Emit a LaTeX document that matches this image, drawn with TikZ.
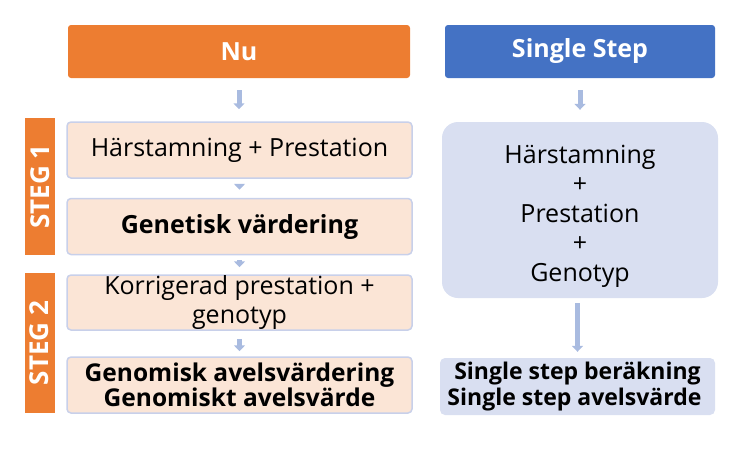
\documentclass[tikz,border=0pt]{standalone}
\usepackage{fontspec}
\setmainfont{Open Sans}
\usetikzlibrary{arrows.meta}
\definecolor{nuOrange}{HTML}{ED7D31}
\definecolor{ssBlue}{HTML}{4472C4}
\definecolor{peach}{HTML}{FBE5D6}
\definecolor{lavender}{HTML}{D9DFF1}
\definecolor{edgeBlue}{HTML}{C8D0EA}
\definecolor{arrowBlue}{HTML}{A9BBE0}
\tikzstyle{header} = [rectangle, rounded corners=3pt,
minimum height=53pt,
text centered,
text=white,
font=\fontsize{25}{27}\selectfont\bfseries]
\tikzstyle{stepBar} = [rectangle, rotate=90,
minimum height=30pt,
text centered,
fill=nuOrange,
text=white,
font=\fontsize{26}{28}\selectfont\bfseries]
\tikzstyle{leftBox} = [rectangle, rounded corners=4pt,
minimum width=345pt,
minimum height=56pt,
inner sep=0pt,
align=center,
draw=edgeBlue, line width=1.5pt,
fill=peach,
font=\fontsize{25}{28.7}\selectfont]
\tikzstyle{rightBox} = [rectangle,
minimum width=276pt,
inner sep=0pt,
align=center,
fill=lavender,
font=\fontsize{25}{29.5}\selectfont]
\tikzstyle{arrow} = [line width=5pt, draw=arrowBlue, -{Triangle[width=11pt,length=6pt]}]

\begin{document}
\begin{tikzpicture}[x=1pt, y=-1pt, node distance=76pt]
\useasboundingbox (0,0) rectangle (750,448);
\node (nu) [header, fill=nuOrange, minimum width=342pt] at (239,51.5) {Nu};
\node (ss) [header, fill=ssBlue, minimum width=270pt] at (580,51.5) {Single Step};

\node (harPre) [leftBox] at (239.5,150) {Härstamning + Prestation};
\node (genVar) [leftBox, below of=harPre, yshift=-0.5pt, font=\fontsize{25}{25}\selectfont\bfseries] {Genetisk värdering};
\node (korPre) [leftBox, below of=genVar, minimum height=55pt] {Korrigerad prestation +\\genotyp};
\node (genAv) [leftBox, below of=korPre, yshift=-6.5pt, font=\fontsize{24.5}{25}\selectfont\bfseries] {Genomisk avelsvärdering\\Genomiskt avelsvärde};

\node (steg1) [stepBar, minimum width=137pt] at (40,186.5) {STEG 1};
\node (steg2) [stepBar, minimum width=140pt] at (39.5,343) {STEG 2};

\node (ssAll) [rightBox, rounded corners=16pt, minimum height=176pt] at (580,210) {\rule{0pt}{30pt}Härstamning\\+\\Prestation\\+\\Genotyp};
\node (ssRes) [rightBox, rounded corners=5pt, minimum width=275pt, minimum height=57pt, font=\fontsize{23}{26}\selectfont\bfseries] at (577.5,386.5) {Single step beräkning\\Single step avelsvärde\hspace*{6pt}};

\draw [arrow, shorten <=12pt, shorten >=12pt] (nu) -- (nu |- harPre.north);
\draw [arrow, shorten <=5pt, shorten >=8pt] (harPre) -- (genVar);
\draw [arrow, shorten <=5pt, shorten >=7pt] (genVar) -- (korPre);
\draw [arrow, shorten <=8pt, shorten >=5pt] (korPre) -- (genAv);
\draw [arrow, shorten <=12pt, shorten >=12pt] (ss) -- (ss |- ssAll.north);
\draw [arrow, shorten <=5pt, shorten >=6pt] (ssAll.south -| ssRes) -- (ssRes);
\end{tikzpicture}
\end{document}
